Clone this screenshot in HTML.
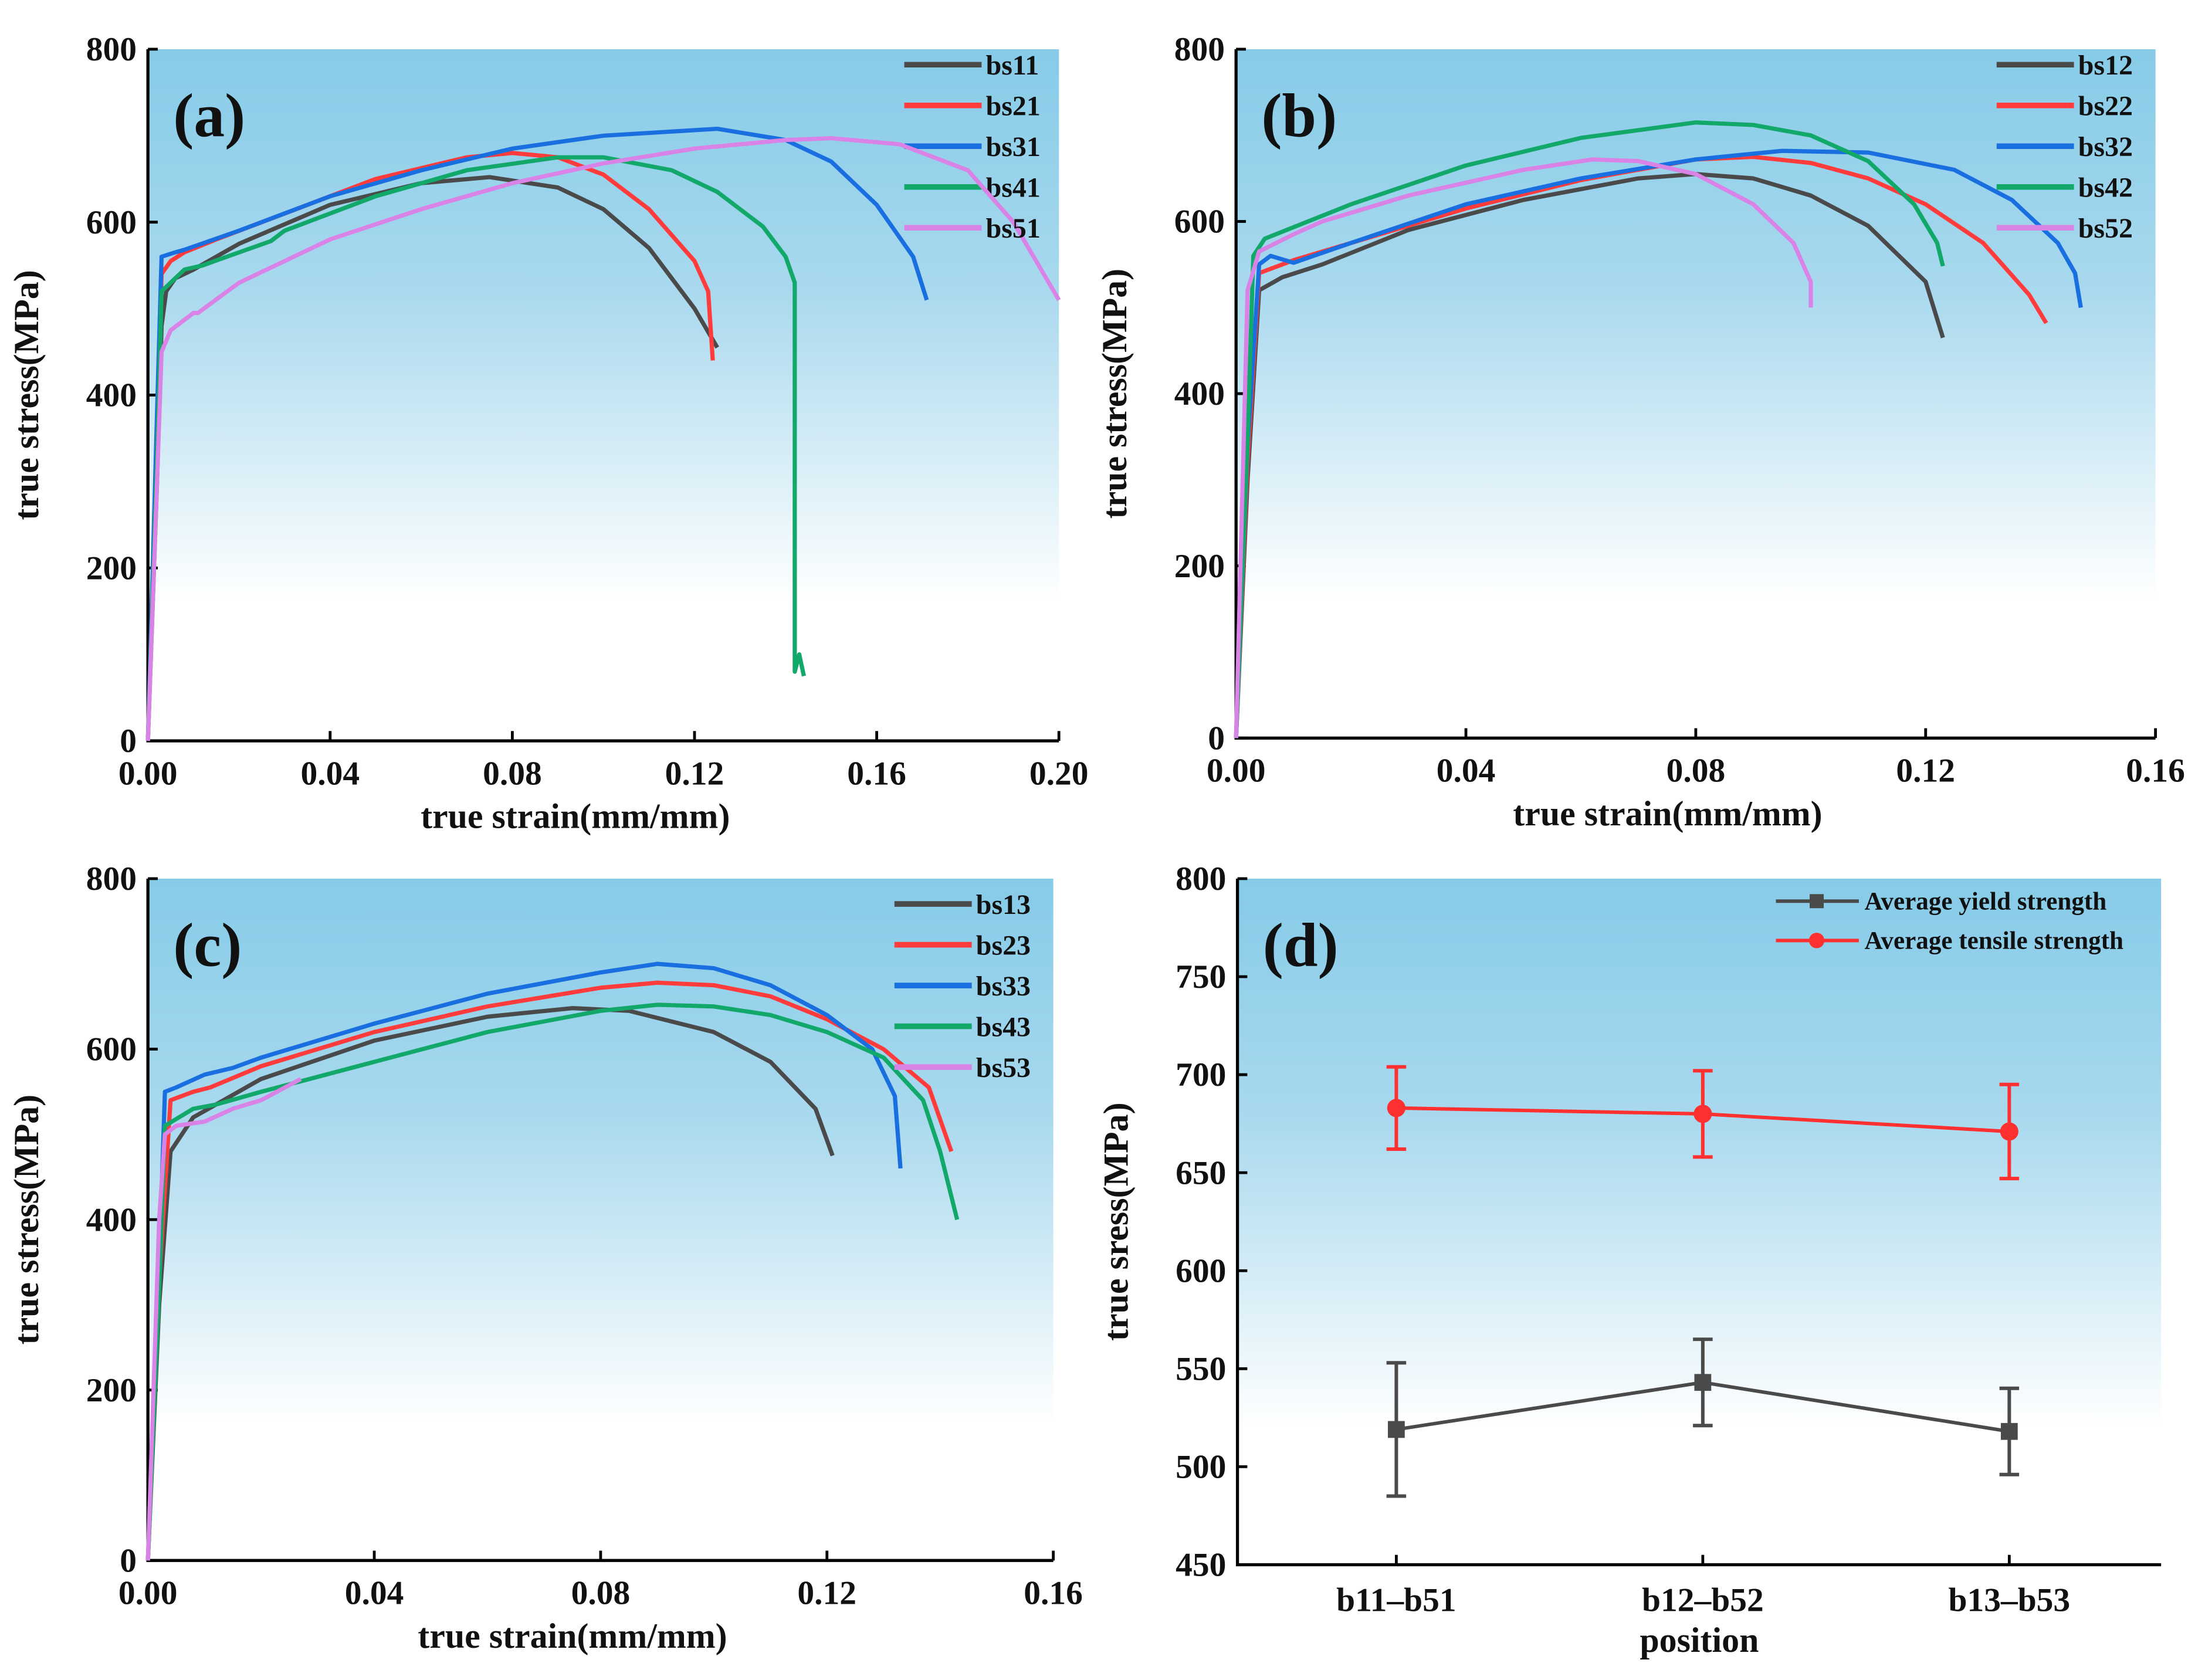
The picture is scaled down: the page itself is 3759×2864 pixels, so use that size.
<!DOCTYPE html>
<html><head><meta charset="utf-8"><style>
html,body{margin:0;padding:0;background:#fff}
svg{display:block}
text{font-family:"Liberation Serif",serif;font-weight:bold;fill:#111}
</style></head><body>
<svg id="fig" xmlns="http://www.w3.org/2000/svg" width="3759" height="2864" viewBox="0 0 1568 1195">
<defs>
<linearGradient id="bg" x1="0" y1="0" x2="0" y2="1">
<stop offset="0" stop-color="#86cbe8"/><stop offset="0.35" stop-color="#a9d9ee"/><stop offset="0.8" stop-color="#ffffff"/><stop offset="1" stop-color="#ffffff"/>
</linearGradient>
</defs>
</svg>
<script>
// ---- data ----
const seriesA = ["bs11","bs21","bs31","bs41","bs51"];
const seriesB = ["bs12","bs22","bs32","bs42","bs52"];
const seriesC = ["bs13","bs23","bs33","bs43","bs53"];
const bs11 = [[0,0],[0.002,300],[0.003,480],[0.004,520],[0.006,535],[0.01,545],[0.02,575],[0.04,620],[0.06,645],[0.075,652],[0.09,640],[0.1,615],[0.11,570],[0.12,500],[0.125,455]];
const bs21 = [[0,0],[0.002,350],[0.003,540],[0.005,555],[0.008,565],[0.015,580],[0.03,610],[0.05,650],[0.07,675],[0.08,680],[0.09,675],[0.1,655],[0.11,615],[0.12,555],[0.123,520],[0.124,440]];
const bs31 = [[0,0],[0.002,380],[0.003,560],[0.006,565],[0.008,568],[0.02,590],[0.04,630],[0.06,660],[0.08,685],[0.1,700],[0.125,708],[0.14,695],[0.15,670],[0.16,620],[0.168,560],[0.171,510]];
const bs41 = [[0,0],[0.002,330],[0.003,520],[0.008,545],[0.012,550],[0.02,565],[0.027,578],[0.03,590],[0.05,630],[0.07,660],[0.09,675],[0.1,675],[0.115,660],[0.125,635],[0.135,595],[0.14,560],[0.142,530],[0.142,300],[0.142,80],[0.143,100],[0.144,75]];
const bs51 = [[0,0],[0.002,300],[0.003,450],[0.005,475],[0.01,495],[0.011,495],[0.02,530],[0.04,580],[0.06,615],[0.08,645],[0.1,668],[0.12,685],[0.14,695],[0.15,697],[0.165,690],[0.18,660],[0.19,600],[0.2,510]];
const bs12 = [[0,0],[0.002,300],[0.004,520],[0.008,535],[0.015,550],[0.03,590],[0.05,625],[0.07,650],[0.08,655],[0.09,650],[0.1,630],[0.11,595],[0.12,530],[0.123,465]];
const bs22 = [[0,0],[0.002,320],[0.004,540],[0.01,555],[0.02,575],[0.04,615],[0.06,648],[0.08,672],[0.09,675],[0.1,668],[0.11,650],[0.12,620],[0.13,575],[0.138,515],[0.141,482]];
const bs32 = [[0,0],[0.002,340],[0.004,550],[0.006,560],[0.01,552],[0.02,575],[0.04,620],[0.06,650],[0.08,672],[0.095,682],[0.11,680],[0.125,660],[0.135,625],[0.143,575],[0.146,540],[0.147,500]];
const bs42 = [[0,0],[0.002,350],[0.003,560],[0.005,580],[0.02,620],[0.04,665],[0.06,697],[0.08,715],[0.09,712],[0.1,700],[0.11,670],[0.118,620],[0.122,575],[0.123,548]];
const bs52 = [[0,0],[0.002,520],[0.004,565],[0.01,585],[0.015,600],[0.02,610],[0.03,630],[0.05,660],[0.062,672],[0.07,670],[0.08,655],[0.09,620],[0.097,575],[0.1,530],[0.1,500]];
const bs13 = [[0,0],[0.002,300],[0.004,480],[0.008,520],[0.02,565],[0.04,610],[0.06,638],[0.075,648],[0.085,645],[0.1,620],[0.11,585],[0.118,530],[0.121,475]];
const bs23 = [[0,0],[0.002,330],[0.004,540],[0.008,550],[0.011,555],[0.02,580],[0.04,620],[0.06,650],[0.08,672],[0.09,678],[0.1,675],[0.11,662],[0.12,635],[0.13,600],[0.138,555],[0.142,480]];
const bs33 = [[0,0],[0.002,350],[0.003,550],[0.005,555],[0.01,570],[0.015,578],[0.02,590],[0.04,630],[0.06,665],[0.08,690],[0.09,700],[0.1,695],[0.11,675],[0.12,640],[0.128,600],[0.132,545],[0.133,460]];
const bs43 = [[0,0],[0.002,320],[0.003,510],[0.008,530],[0.012,535],[0.02,550],[0.04,585],[0.06,620],[0.08,645],[0.09,652],[0.1,650],[0.11,640],[0.12,620],[0.13,590],[0.137,540],[0.14,480],[0.143,400]];
const bs53 = [[0,0],[0.002,400],[0.003,500],[0.005,510],[0.01,515],[0.015,530],[0.02,540],[0.027,565]];
const categoriesD = ["b11\u2013b51","b12\u2013b52","b13\u2013b53"];
const yieldMean = [519,543,518];
const yieldErr = [34,22,22];
const tensileMean = [683,680,671];
const tensileErr = [21,22,24];
const ticksA = [0,0.04,0.08,0.12,0.16,0.20];
const ticksBC = [0,0.04,0.08,0.12,0.16];
const ticksY = [0,200,400,600,800];
const ticksYD = [450,500,550,600,650,700,750,800];

const colors = ["#4a4a4a","#ff3b3b","#1a6fe0","#12a86a","#d983e6"];
const NS = "http://www.w3.org/2000/svg";
const svg = document.getElementById("fig");
function el(tag, attrs, parent, txt){
  const e = document.createElementNS(NS, tag);
  for (const k in attrs) e.setAttribute(k, attrs[k]);
  if (txt !== undefined) e.textContent = txt;
  (parent||svg).appendChild(e);
  return e;
}
function panel(id, L, T, R, B, xmax, xticks, ymin, ymax, yticks, xfmt, xtitle, ytitle, letter){
  const g = el("g", {});
  
  
  const bgR = el("rect", {x:L,y:T,width:R-L,height:B-T,fill:"url(#bg)"}, g);
  
  
  const sx = v => L + (v/xmax)*(R-L);
  const sy = v => B - (v-ymin)/(ymax-ymin)*(B-T);
  el("path", {d:`M${L},${T} V${B} H${R}`, stroke:"#000","stroke-width":2.2, fill:"none"}, g);
  xticks && xticks.forEach(t=>{
    const x = sx(t);
    el("line",{x1:x,x2:x,y1:B,y2:B-7,stroke:"#000","stroke-width":2},g);
    const tl = el("text",{x:x,y:B+31,"text-anchor":"middle","font-size":24},g,xfmt(t));
    
    
  });
  yticks.forEach(t=>{
    const y = sy(t);
    el("line",{x1:L,x2:L+7,y1:y,y2:y,stroke:"#000","stroke-width":2},g);
    const tl = el("text",{x:L-8,y:y+8,"text-anchor":"end","font-size":24},g,String(t));
    
    
  });
  const xt = el("text",{x:(L+R)/2+(id==="d"?0:-20),y:B+62,"text-anchor":"middle","font-size":25},g,xtitle);
  
  
  const yt = el("text",{x:0,y:0,"text-anchor":"middle","font-size":25,transform:`translate(${L-78},${(T+B)/2}) rotate(-90)`},g,ytitle);
  
  
  const lt = el("text",{x:L+18,y:T+62,"font-size":44},g,letter);
  
  
  return {g,sx,sy};
}
function curves(p, names, datas, legX, legY){
  datas.forEach((d,i)=>{
    const pts = d.map(q=>`${p.sx(q[0]).toFixed(1)},${p.sy(q[1]).toFixed(1)}`).join(" ");
    const pl = el("polyline",{points:pts,fill:"none",stroke:colors[i],"stroke-width":3,"stroke-linejoin":"round"},p.g);
    
    
    const y = legY + i*29;
    const lg = el("g",{},p.g);
    
    
    el("line",{x1:legX,x2:legX+55,y1:y,y2:y,stroke:colors[i],"stroke-width":4},lg);
    el("text",{x:legX+58,y:y+7,"font-size":20},lg,names[i]);
  });
}
const fx = t => t.toFixed(2);
const pA = panel("a",105,35,753,527,0.20,ticksA,0,800,ticksY,fx,"true strain(mm/mm)","true stress(MPa)","(a)");
curves(pA, seriesA, [bs11,bs21,bs31,bs41,bs51], 643, 46);
const pB = panel("b",879,35,1533,525,0.16,ticksBC,0,800,ticksY,fx,"true strain(mm/mm)","true stress(MPa)","(b)");
curves(pB, seriesB, [bs12,bs22,bs32,bs42,bs52], 1420, 46);
const pC = panel("c",105,625,749,1110,0.16,ticksBC,0,800,ticksY,fx,"true strain(mm/mm)","true stress(MPa)","(c)");
curves(pC, seriesC, [bs13,bs23,bs33,bs43,bs53], 636, 643);

// panel d
const pD = panel("d",880,625,1537,1113,1,null,450,800,ticksYD,fx,"position","true sress(MPa)","(d)");
const cx = i => 993 + i*218;
categoriesD.forEach((c,i)=>{
  el("line",{x1:cx(i),x2:cx(i),y1:1113,y2:1106,stroke:"#000","stroke-width":2},pD.g);
  const t = el("text",{x:cx(i),y:1146,"text-anchor":"middle","font-size":24},pD.g,c);
  
  
});
function dseries(name, mean, err, color, marker){
  const g = el("g",{},pD.g);
  
  
  el("polyline",{points:mean.map((m,i)=>`${cx(i)},${pD.sy(m)}`).join(" "),fill:"none",stroke:color,"stroke-width":2.5},g);
  mean.forEach((m,i)=>{
    const x=cx(i), y1=pD.sy(m-err[i]), y2=pD.sy(m+err[i]);
    el("path",{d:`M${x},${y1}V${y2}M${x-7},${y1}H${x+7}M${x-7},${y2}H${x+7}`,stroke:color,"stroke-width":2.5,fill:"none"},g);
    if(marker==="sq") el("rect",{x:x-6,y:pD.sy(m)-6,width:12,height:12,fill:color},g);
    else el("circle",{cx:x,cy:pD.sy(m),r:6.5,fill:color},g);
  });
}
dseries("yield-strength-series", yieldMean, yieldErr, "#4a4a4a", "sq");
dseries("tensile-strength-series", tensileMean, tensileErr, "#ff3030", "ci");
[["Average yield strength","#4a4a4a","sq",641],["Average tensile strength","#ff3030","ci",669]].forEach(e=>{
  const g = el("g",{},pD.g);
  
  
  el("line",{x1:1263,x2:1322,y1:e[3],y2:e[3],stroke:e[1],"stroke-width":2.5},g);
  if(e[2]==="sq") el("rect",{x:1287,y:e[3]-5,width:10,height:10,fill:e[1]},g);
  else el("circle",{cx:1292,cy:e[3],r:5.5,fill:e[1]},g);
  el("text",{x:1326,y:e[3]+6,"font-size":18},g,e[0]);
});
</script>
</body></html>
